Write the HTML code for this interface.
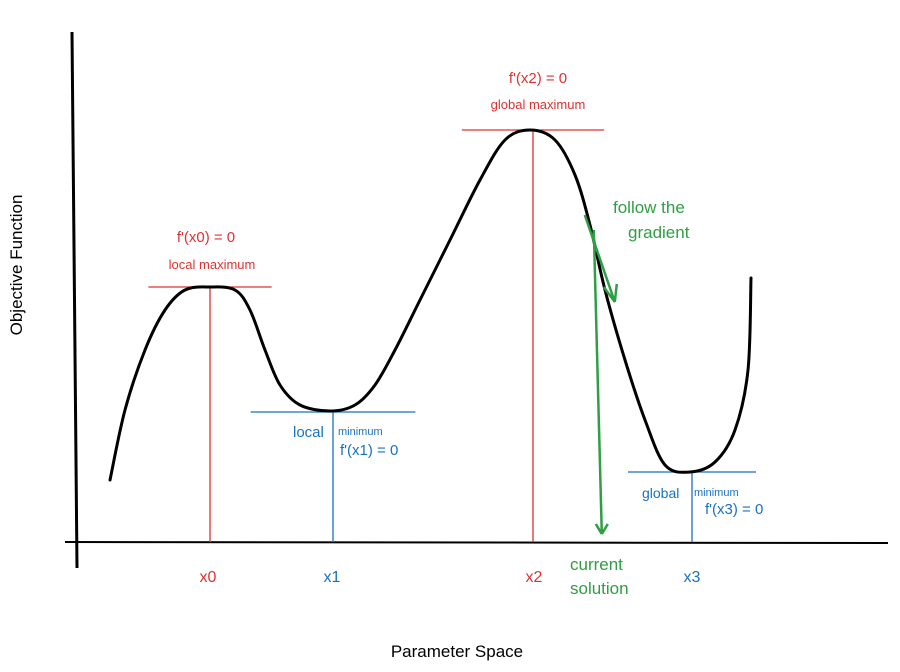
<!DOCTYPE html>
<html><head><meta charset="utf-8"><style>
html,body{margin:0;padding:0;background:#fff;}
svg{display:block;}
text{font-family:"Liberation Sans",sans-serif;}
</style></head><body>
<svg id="chart" width="900" height="672" viewBox="0 0 900 672" xmlns="http://www.w3.org/2000/svg">
<rect width="900" height="672" fill="#fff"/>
<line x1="72" y1="32" x2="77" y2="568" stroke="#000" stroke-width="3"/>
<line x1="65" y1="542" x2="888" y2="543" stroke="#000" stroke-width="2"/>
<g id="marks"></g>
<text transform="translate(22,265) rotate(-90)" text-anchor="middle" font-size="17" fill="#000">Objective Function</text>
<text x="457" y="657" text-anchor="middle" font-size="17" fill="#000">Parameter Space</text>
<text x="206" y="242" text-anchor="middle" font-size="15" fill="#e03131">f'(x0) = 0</text>
<text x="212" y="269" text-anchor="middle" font-size="13" fill="#e03131">local maximum</text>
<text x="538" y="83" text-anchor="middle" font-size="15" fill="#e03131">f'(x2) = 0</text>
<text x="538" y="109" text-anchor="middle" font-size="13" fill="#e03131">global maximum</text>
<text x="293" y="437" font-size="15" fill="#1971c2">local</text>
<text x="338" y="435" font-size="11" fill="#1971c2">minimum</text>
<text x="340" y="455" font-size="15" fill="#1971c2">f'(x1) = 0</text>
<text x="642" y="498" font-size="14" fill="#1971c2">global</text>
<text x="694" y="496" font-size="11" fill="#1971c2">minimum</text>
<text x="705" y="514" font-size="15" fill="#1971c2">f'(x3) = 0</text>
<text font-size="17" fill="#2f9e44"><tspan x="613" y="213">follow the</tspan><tspan x="628" y="238">gradient</tspan></text>
<text font-size="17" fill="#2f9e44"><tspan x="570" y="570">current</tspan><tspan x="570" y="594">solution</tspan></text>
<text x="208" y="582" text-anchor="middle" font-size="16" fill="#e03131">x0</text>
<text x="332" y="582" text-anchor="middle" font-size="16" fill="#1971c2">x1</text>
<text x="534" y="582" text-anchor="middle" font-size="16" fill="#e03131">x2</text>
<text x="692" y="582" text-anchor="middle" font-size="16" fill="#1971c2">x3</text>
</svg>
<script>
const curveParam=[4.75,6.625,9.125,11.625,14.125,17.25,20.375,22.25,24.125,26,28.5,32.25,35.375,37.875,40.375,43.5,47.25,51,54.125,57.25,60.375,62.875,64.75,66.625,69.125,71.625,74.125,77.25,80.375,82.875,84.5,84.875];
const curveObj=[15.5,33,48,58,63,63.75,63,58,48,39.25,34.25,32.75,34.25,39.25,48,60.5,75.5,90.5,100.5,103,100.5,91.75,79.25,63,45.5,30.5,19.25,17.5,20,28,43,66];
const extremaParam=[17.25,32.625,57.625,77.5];
const extremaObj=[63.75,32.5,103,17.5];
const extremaColor=["#e03131","#1971c2","#e03131","#1971c2"];
const extremaHalf=[7.7,10.3,8.9,8];
const currentParam=65.6;
const currentObj=78;
const sx=v=>72+v*8;
const sy=v=>542-v*4;
const NS="http://www.w3.org/2000/svg";
const g=document.getElementById("marks");
function mk(tag,attrs){const e=document.createElementNS(NS,tag);for(const k in attrs)e.setAttribute(k,attrs[k]);g.appendChild(e);return e;}
for(let i=0;i<extremaParam.length;i++){
  const x=sx(extremaParam[i]),y=sy(extremaObj[i]),h=extremaHalf[i]*8;
  const hl=mk("line",{x1:x-h,y1:y,x2:x+h,y2:y,stroke:extremaColor[i],"stroke-width":1.3});
  
  
  const vl=mk("line",{x1:x,y1:y,x2:x,y2:sy(0),stroke:extremaColor[i],"stroke-width":1.3});
  
  
}
const pts=curveParam.map((p,i)=>[sx(p),sy(curveObj[i])]);
let d="M"+pts[0][0]+","+pts[0][1];
for(let i=0;i<pts.length-1;i++){
  const p0=pts[Math.max(0,i-1)],p1=pts[i],p2=pts[i+1],p3=pts[Math.min(pts.length-1,i+2)];
  d+=" C"+(p1[0]+(p2[0]-p0[0])/6)+","+(p1[1]+(p2[1]-p0[1])/6)+" "+(p2[0]-(p3[0]-p1[0])/6)+","+(p2[1]-(p3[1]-p1[1])/6)+" "+p2[0]+","+p2[1];
}
const c=mk("path",{d:d,fill:"none",stroke:"#000","stroke-width":3,"stroke-linecap":"round"});


const cx=sx(currentParam),cy=sy(currentObj);
const gl=mk("path",{d:`M${cx-12},${cy-15} L${cx+18},${cy+72} M${cx+18},${cy+72} L${cx+7},${cy+57} M${cx+18},${cy+72} L${cx+20},${cy+54}`,fill:"none",stroke:"#2f9e44","stroke-width":2.5});


const da=mk("path",{d:`M${cx-3},${cy} L${cx+5},${sy(2)} M${cx+5},${sy(2)} L${cx-1},${sy(4.5)} M${cx+5},${sy(2)} L${cx+11},${sy(4.5)}`,fill:"none",stroke:"#2f9e44","stroke-width":2.5});


</script>
</body></html>
